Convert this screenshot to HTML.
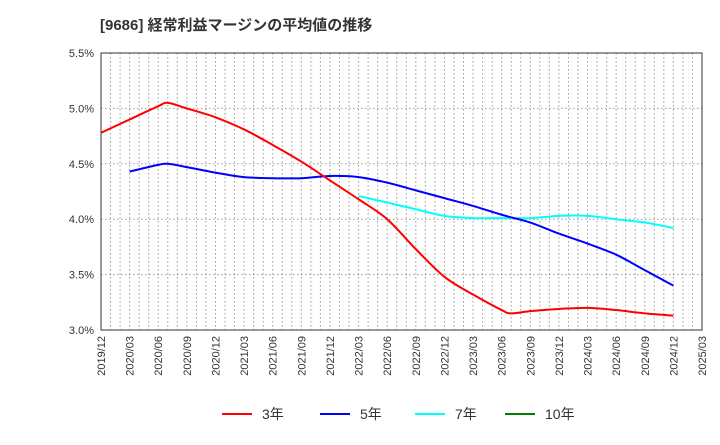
<!DOCTYPE html>
<html><head><meta charset="utf-8"><style>
body{margin:0;background:#fff;font-family:"Liberation Sans","Noto Sans CJK JP",sans-serif;}
</style></head><body>
<svg width="720" height="440" xmlns="http://www.w3.org/2000/svg">
<text x="100" y="30" font-size="15" font-weight="bold" fill="#333">[9686]  経常利益マージンの平均値の推移</text>
<g id="grid"></g>
<g id="axes"></g>
<g id="lines"></g>
<g id="legend"></g>
</svg>
<script>
const xLabels=["2019/12","2020/03","2020/06","2020/09","2020/12","2021/03","2021/06","2021/09","2021/12","2022/03","2022/06","2022/09","2022/12","2023/03","2023/06","2023/09","2023/12","2024/03","2024/06","2024/09","2024/12","2025/03"];
const yTicks=[3.0,3.5,4.0,4.5,5.0,5.5];
const m3=[0,3,6,7,9,12,15,18,21,24,27,30,33,36,39,42,43,45,48,51,54,57,60];
const v3=[4.78,4.90,5.02,5.05,5.00,4.92,4.81,4.67,4.52,4.35,4.18,4.00,3.73,3.48,3.32,3.18,3.15,3.17,3.19,3.20,3.18,3.15,3.13];
const m5=[3,6,7,9,12,15,18,21,24,27,30,33,36,39,42,45,48,51,54,57,60];
const v5=[4.43,4.49,4.50,4.47,4.42,4.38,4.37,4.37,4.39,4.38,4.33,4.26,4.19,4.12,4.04,3.97,3.87,3.78,3.68,3.54,3.40];
const m7=[27,30,33,36,39,42,45,48,51,54,57,60];
const v7=[4.21,4.15,4.09,4.03,4.01,4.01,4.01,4.03,4.03,4.00,3.97,3.92];
const L=101,R=702,T=53,B=330;
const X=m=>L+(R-L)*m/63, Y=v=>B-(v-3.0)/2.5*(B-T);
const NS="http://www.w3.org/2000/svg";
function mk(tag,attrs,parent,text){const e=document.createElementNS(NS,tag);for(const k in attrs)e.setAttribute(k,attrs[k]);if(text!==undefined)e.textContent=text;document.getElementById(parent).appendChild(e);return e;}
for(let m=0;m<=63;m++){const l=mk('line',{x1:X(m),x2:X(m),y1:T,y2:B,stroke:'#999','stroke-dasharray':'1.5,2.5','stroke-width':1},'grid');

}
yTicks.forEach(v=>{const l=mk('line',{x1:L,x2:R,y1:Y(v),y2:Y(v),stroke:'#999','stroke-dasharray':'1.5,2.5'},'grid');


const t=mk('text',{x:L-7,y:Y(v)+4,'text-anchor':'end','font-size':11,fill:'#333'},'axes',v.toFixed(1)+'%');

});
const fr=mk('rect',{x:L,y:T,width:R-L,height:B-T,fill:'none',stroke:'#333'},'axes');


xLabels.forEach((s,i)=>{const x=X(i*3),y=B+6;const t=mk('text',{x:x+4,y:y,'text-anchor':'end','font-size':11,fill:'#333',transform:`rotate(-90 ${x+4} ${y})`},'axes',s);

});
function path(ms,vs){const p=ms.map((m,i)=>[X(m),Y(vs[i])]);let d=`M${p[0][0]},${p[0][1]}`;
for(let i=0;i<p.length-1;i++){const p0=p[i-1]||p[i],p1=p[i],p2=p[i+1],p3=p[i+2]||p2;
d+=` C${p1[0]+(p2[0]-p0[0])/6},${p1[1]+(p2[1]-p0[1])/6} ${p2[0]-(p3[0]-p1[0])/6},${p2[1]-(p3[1]-p1[1])/6} ${p2[0]},${p2[1]}`;}return d;}
[[m7,v7,'#00ffff','line-7y'],[m5,v5,'#0000ff','line-5y'],[m3,v3,'#ff0000','line-3y']].forEach(([m,v,c,n])=>{
const e=mk('path',{d:path(m,v),fill:'none',stroke:c,'stroke-width':2},'lines');

});
[['3年','#ff0000',222],['5年','#0000ff',320],['7年','#00ffff',415],['10年','#008000',505]].forEach(([s,c,x])=>{
const l=mk('line',{x1:x,x2:x+30,y1:414,y2:414,stroke:c,'stroke-width':2},'legend');


const t=mk('text',{x:x+40,y:419,'font-size':14,fill:'#333'},'legend',s);

});
</script>
</body></html>
